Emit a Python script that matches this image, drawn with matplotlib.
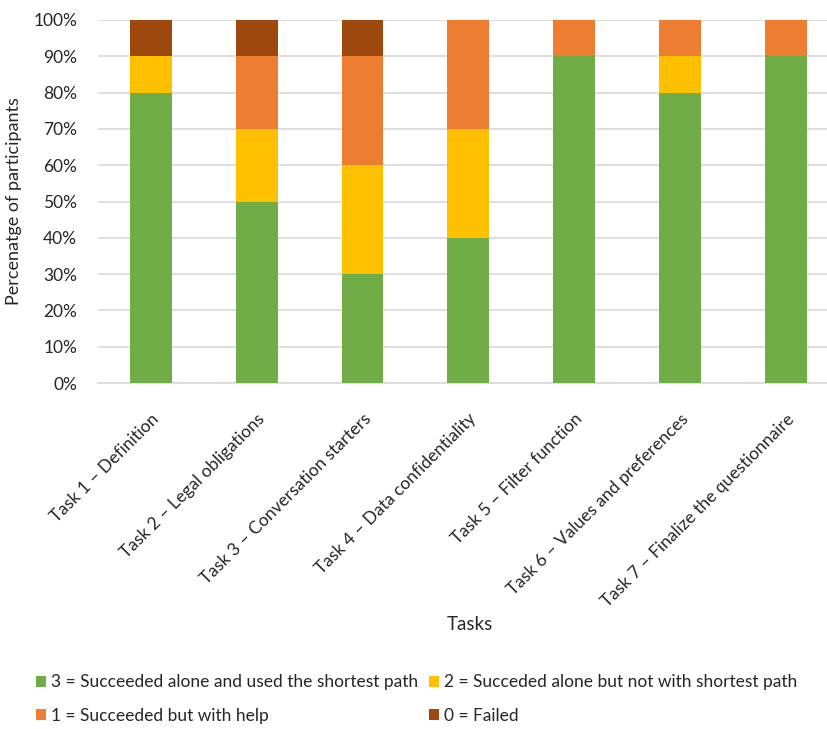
import numpy as np
import matplotlib.pyplot as plt
from matplotlib.ticker import PercentFormatter

plt.rcParams['font.family'] = ['Lato', 'DejaVu Sans']

# data (percent of participants)
tasks = [
    "Task 1 \u2013 Definition",
    "Task 2 \u2013 Legal obligations",
    "Task 3 \u2013 Conversation starters",
    "Task 4 \u2013 Data confidentiality",
    "Task 5 \u2013 Filter function",
    "Task 6 \u2013 Values and preferences",
    "Task 7 \u2013 Finalize the questionnaire",
]
score_3 = [80, 50, 30, 40, 90, 80, 90]
score_2 = [10, 20, 30, 30, 0, 10, 0]
score_1 = [0, 20, 30, 30, 10, 10, 10]
score_0 = [10, 10, 10, 0, 0, 0, 0]

labels = [
    "3 = Succeeded alone and used the shortest path",
    "2 = Succeded alone but not with shortest path",
    "1 = Succeeded but with help",
    "0 = Failed",
]
colors = ["#70AD47", "#FFC000", "#ED7D31", "#9E480E"]

fig = plt.figure(figsize=(8.27, 7.29), dpi=100)
ax = fig.add_axes([98 / 827, 1 - 383 / 729, 1 - 98 / 827, 363 / 729])

x = np.arange(len(tasks))
bottom = np.zeros(len(tasks))
handles = []
for vals, lab, col in zip([score_3, score_2, score_1, score_0], labels, colors):
    b = ax.bar(x, vals, width=0.395, bottom=bottom, color=col, label=lab, zorder=3)
    handles.append(b)
    bottom += np.array(vals)

ax.set_ylim(0, 100)
ax.set_xlim(-0.5, 6.39)
ax.set_yticks(np.arange(0, 101, 10))
ax.yaxis.set_major_formatter(PercentFormatter(decimals=0))
ax.grid(axis='y', color='#D9D9D9', linewidth=1.2, zorder=0)
for s in ['top', 'right', 'left']:
    ax.spines[s].set_visible(False)
ax.spines['bottom'].set_color('#D9D9D9')
ax.spines['bottom'].set_linewidth(1.2)
ax.tick_params(axis='both', length=0, labelsize=12.5, colors='#262626')
ax.tick_params(axis='y', pad=15)
ax.tick_params(axis='x', pad=20)
ax.set_xticks(x)
ax.set_xticklabels(tasks, rotation=45, ha='right', rotation_mode='anchor',
                   fontsize=12.5)

ax.set_ylabel("Percenatge of participants", fontsize=13, color='#262626',
              labelpad=8)
fig.text(470 / 827, 1 - 625 / 729, "Tasks", fontsize=13.5, color='#262626',
         ha='center', va='center')

# legend in row order: green, yellow / orange, brown
order = [0, 2, 1, 3]
fig.legend([handles[i] for i in order], [labels[i] for i in order],
           ncol=2, loc='center left', bbox_to_anchor=(20 / 827, 1 - 699 / 729),
           frameon=False, fontsize=12.5, handlelength=0.6, handleheight=0.6,
           handletextpad=0.3, columnspacing=0.6, labelspacing=1.0,
           labelcolor='#262626')

fig.savefig("out.png", dpi=100)
